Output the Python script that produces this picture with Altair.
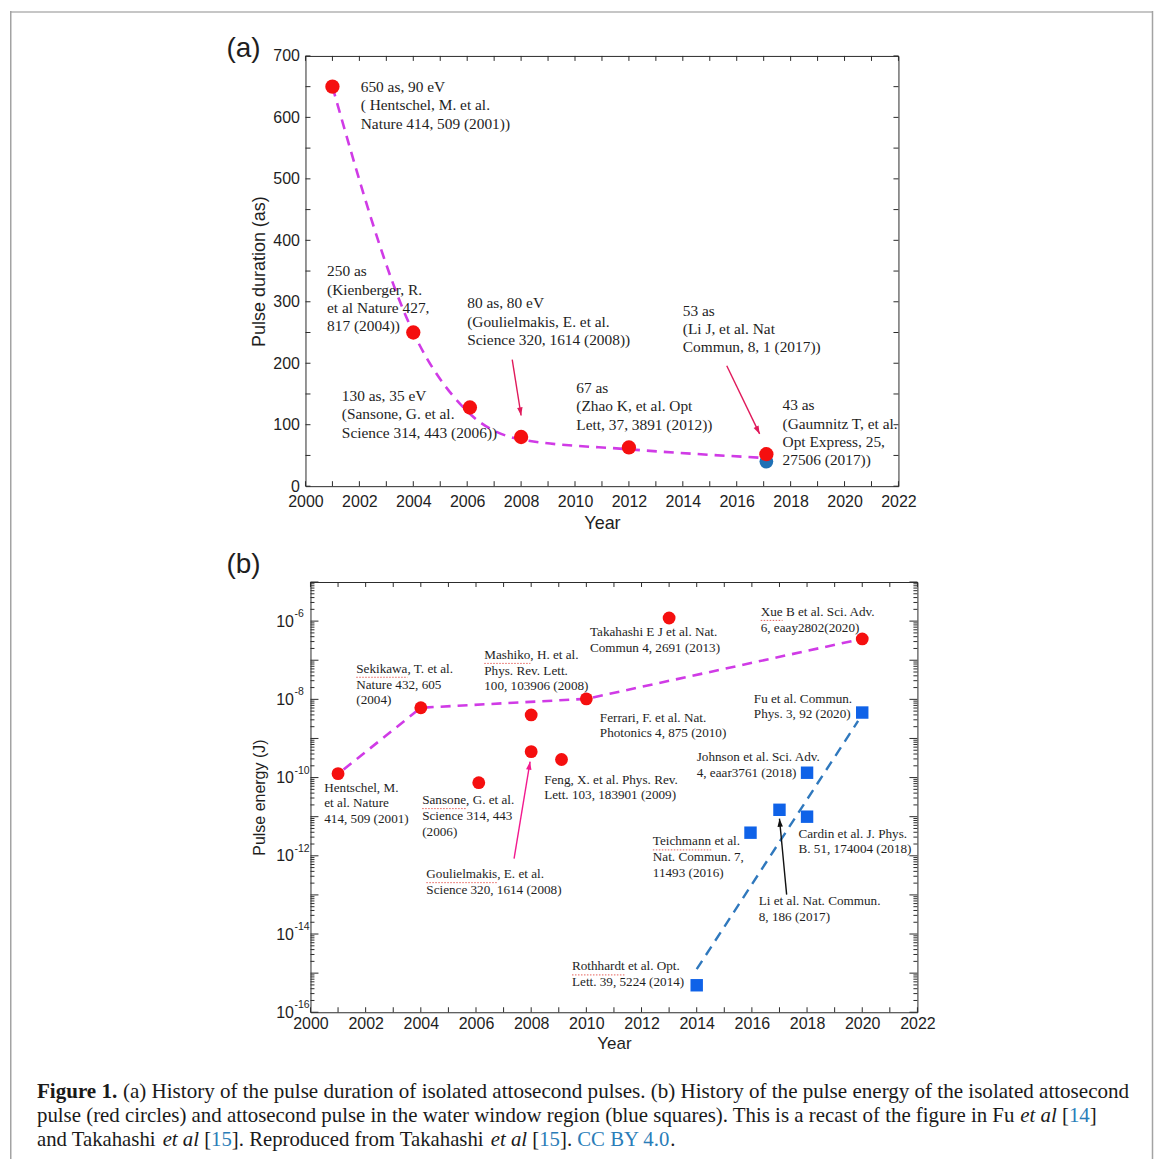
import altair as alt
import pandas as pd

SANS = "Liberation Sans"
SERIF = "Liberation Serif"
TXT = "#1e1e1e"
FRAME = "#2b2b2b"
RED = "#f50f0f"
MAG = "#d03be6"

# ---------------- panel (a): pulse duration ----------------
a_red_year = [2001, 2004, 2006.1, 2008, 2012, 2017.1]
a_red_dur = [650, 250, 128, 80, 63, 52]
a_blue_year = [2017.1]
a_blue_dur = [40]
a_fit_year = [2001, 2004, 2006, 2008, 2012, 2017]
a_fit_dur = [650, 250, 122, 76, 60, 46]

a_note_year = [2002.05, 2000.8, 2001.35, 2006.0, 2010.05, 2014.0, 2017.7]
a_note_dur = [648, 348, 145, 296, 158, 284, 130]
a_note_text = [
    ["650 as, 90 eV", "( Hentschel, M. et al.", "Nature 414, 509 (2001))"],
    ["250 as", "(Kienberger, R.", "et al Nature 427,", "817 (2004))"],
    ["130 as, 35 eV", "(Sansone, G. et al.", "Science 314, 443 (2006))"],
    ["80 as, 80 eV", "(Goulielmakis, E. et al.", "Science 320, 1614 (2008))"],
    ["67 as", "(Zhao K, et al. Opt", "Lett, 37, 3891 (2012))"],
    ["53 as", "(Li J, et al. Nat", "Commun, 8, 1 (2017))"],
    ["43 as", "(Gaumnitz T, et al.", "Opt Express, 25,", "27506 (2017))"],
]
a_arrow_from_year = [2007.67, 2015.63]
a_arrow_from_dur = [206, 196]
a_arrow_to_year = [2008.0, 2016.85]
a_arrow_to_dur = [115, 85]
a_arrow_angle = [351, 334]

a_xticks = list(range(2000, 2023))
a_xlabels = list(range(2000, 2023, 2))
a_yticks = list(range(0, 701, 50))
a_ylabels = list(range(0, 701, 100))

# ---------------- panel (b): pulse energy ----------------
b_red_year = [2001, 2004, 2006.1, 2008, 2008, 2009.1, 2010, 2013, 2020]
b_red_energy = [1.26e-10, 6.1e-9, 7.4e-11, 4.0e-9, 4.6e-10, 2.9e-10, 1.03e-8, 1.2e-6, 3.5e-7]
b_blue_year = [2014, 2015.95, 2017, 2018, 2018, 2020]
b_blue_energy = [4.9e-16, 3.9e-12, 1.5e-11, 1.33e-10, 1.0e-11, 4.6e-9]
b_red_fit_year = [2001.2, 2004, 2010, 2019.9]
b_red_fit_energy = [1.6e-10, 6.1e-9, 1.03e-8, 3.4e-7]
b_blue_fit_year = [2014, 2019.85]
b_blue_fit_energy = [1.26e-15, 2.8e-9]

b_note_year = [2001.66, 2000.5, 2006.3, 2010.13, 2016.32, 2010.49, 2016.07, 2014.0,
               2008.47, 2004.05, 2017.69, 2012.41, 2004.2, 2016.25, 2009.48]
b_note_energy = [5.7e-8, 5.2e-11, 1.29e-7, 5.0e-7, 1.62e-6, 3.2e-9, 9.8e-9, 3.2e-10,
                 8.3e-11, 2.5e-11, 3.5e-12, 2.2e-12, 3.2e-13, 6.5e-14, 1.4e-15]
b_note_text = [
    ["Sekikawa, T. et al.", "Nature 432, 605", "(2004)"],
    [" Hentschel, M.", "et al. Nature", "414, 509 (2001)"],
    ["Mashiko, H. et al.", "Phys. Rev. Lett.", "100, 103906 (2008)"],
    ["Takahashi E J et al. Nat.", "Commun 4, 2691 (2013)"],
    ["Xue B et al. Sci. Adv.", "6, eaay2802(2020)"],
    ["Ferrari, F. et al. Nat.", "Photonics 4, 875 (2010)"],
    ["Fu et al. Commun.", "Phys. 3, 92 (2020)"],
    ["Johnson et al. Sci. Adv.", "4, eaar3761 (2018)"],
    ["Feng, X. et al. Phys. Rev.", "Lett. 103, 183901 (2009)"],
    ["Sansone, G. et al.", "Science 314, 443", "(2006)"],
    ["Cardin et al. J. Phys.", "B. 51, 174004 (2018)"],
    ["Teichmann et al.", "Nat. Commun. 7,", "11493 (2016)"],
    ["Goulielmakis, E. et al.", "Science 320, 1614 (2008)"],
    ["Li et al. Nat. Commun.", "8, 186 (2017)"],
    ["Rothhardt et al. Opt.", "Lett. 39, 5224 (2014)"],
]
# spell-checker squiggles under the first word of some notes: (note index, word width in em/1000)
b_squiggle_note = [0, 2, 4, 9, 11, 12, 14]
b_squiggle_units = [3888, 3500, 1666, 3333, 4499, 5389, 4000]

b_arrow_from_year = [2007.38, 2017.26]
b_arrow_from_energy = [8.5e-13, 1.02e-13]
b_arrow_to_year = [2007.96, 2017.0]
b_arrow_to_energy = [2.55e-10, 8.9e-12]
b_arrow_angle = [9.4, 354.7]
b_arrow_color = ["#f2198e", "#111111"]

b_xticks = list(range(2000, 2023))
b_xlabels = list(range(2000, 2023, 2))
b_exponents = [-16, -14, -12, -10, -8, -6]
b_major = [10.0 ** e for e in range(-16, -4)]
b_minor = [m * 10.0 ** e for e in range(-16, -5) for m in range(2, 10)]

panel_labels = ["(a)", "(b)"]

caption_lines = [
    [("Figure 1.", "b", 4083),
     ("(a) History of the pulse duration of isolated attosecond pulses. (b) History of the pulse energy of the isolated attosecond", "n", 0)],
    [("pulse (red circles) and attosecond pulse in the water window region (blue squares). This is a recast of the figure in Fu", "n", 47129),
     ("et al", "i", 2000), ("[", "n", 333), ("14", "l", 1000), ("]", "n", 0)],
    [("and Takahashi", "n", 6054), ("et al", "i", 2000), ("[", "n", 333), ("15", "l", 1000),
     ("]. Reproduced from Takahashi", "n", 12469), ("et al", "i", 2000), ("[", "n", 333),
     ("15", "l", 1000), ("].", "n", 833), ("CC BY 4.0", "l", 4473), (".", "n", 0)],
]
caption_sizes = [21.1, 20.9, 20.8]

W_A, H_A = 594, 431
W_B, H_B = 608, 431
A_ORIGIN = (304, 53)
NOTE_FS_A = 15.4
NOTE_FS_B = 13.2

xs_a = alt.Scale(domain=[2000, 2022], nice=False, zero=False)
ys_a = alt.Scale(domain=[0, 700], nice=False, zero=False)
xs_b = alt.Scale(domain=[2000, 2022], nice=False, zero=False)
ys_b = alt.Scale(type="log", domain=[1e-16, 1e-5], nice=False)

common_x = dict(format="d", labelFlush=False, labelOverlap=False, labelFontSize=16)
ax_a_x = alt.Axis(values=a_xlabels, title="Year", labelPadding=7, titlePadding=5,
                  titleFontSize=18, **common_x)
ax_a_y = alt.Axis(values=a_ylabels, format="d", title="Pulse duration (as)", labelPadding=6,
                  titlePadding=4, labelFontSize=16, titleFontSize=18, labelFlush=False)
ax_b_x = alt.Axis(values=b_xlabels, title="Year", labelPadding=3, titlePadding=4,
                  titleFontSize=17, **common_x)
ax_b_y = alt.Axis(values=[10.0 ** e for e in b_exponents], labelExpr="'10'",
                  title="Pulse energy (J)", labelPadding=17, titlePadding=8,
                  labelFontSize=16, titleFontSize=16, labelFlush=False, labelOverlap=False)


def XA(f):
    return alt.X(f, scale=xs_a, axis=ax_a_x)


def YA(f):
    return alt.Y(f, scale=ys_a, axis=ax_a_y)


def XB(f):
    return alt.X(f, scale=xs_b, axis=ax_b_x)


def YB(f):
    return alt.Y(f, scale=ys_b, axis=ax_b_y)


def ticks(values, X, Y, orient, length, w, h):
    df = pd.DataFrame({"t": values})
    m = alt.Chart(df).mark_rule(color=FRAME, strokeWidth=1)
    if orient in ("bottom", "top"):
        y0 = h if orient == "bottom" else 0
        y1 = h - length if orient == "bottom" else length
        return m.encode(x=X("t:Q"), y=alt.value(y0), y2=alt.value(y1))
    x0 = 0 if orient == "left" else w
    x1 = length if orient == "left" else w - length
    return m.encode(y=Y("t:Q"), x=alt.value(x0), x2=alt.value(x1))


one = pd.DataFrame({"t": [0]})

# ---------- panel (a) ----------
a_layers = [
    ticks(a_xticks, XA, YA, "bottom", 5, W_A, H_A),
    ticks(a_yticks, XA, YA, "left", 5, W_A, H_A),
    ticks(a_xticks, XA, YA, "top", 5, W_A, H_A),
    ticks(a_yticks, XA, YA, "right", 5, W_A, H_A),
]
a_layers.append(
    alt.Chart(pd.DataFrame({"year": a_fit_year, "dur": a_fit_dur}))
    .mark_line(color=MAG, strokeWidth=2.6, strokeDash=[10, 7], interpolate="monotone")
    .encode(x=XA("year:Q"), y=YA("dur:Q"))
)
a_layers.append(
    alt.Chart(pd.DataFrame({"year": a_blue_year, "dur": a_blue_dur}))
    .mark_circle(size=190, color="#1f70b5", opacity=1)
    .encode(x=XA("year:Q"), y=YA("dur:Q"))
)
a_layers.append(
    alt.Chart(pd.DataFrame({"year": a_red_year, "dur": a_red_dur}))
    .mark_circle(size=205, color=RED, opacity=1)
    .encode(x=XA("year:Q"), y=YA("dur:Q"))
)
a_layers.append(
    alt.Chart(pd.DataFrame({"year": a_note_year, "dur": a_note_dur, "lines": a_note_text}))
    .mark_text(align="left", baseline="top", dy=-8, font=SERIF, fontSize=NOTE_FS_A,
               lineHeight=18.4, color=TXT)
    .encode(x=XA("year:Q"), y=YA("dur:Q"), text=alt.Text("lines:N"))
)
a_arrows = pd.DataFrame({"x": a_arrow_from_year, "y": a_arrow_from_dur,
                         "x2": a_arrow_to_year, "y2": a_arrow_to_dur})
a_layers.append(
    alt.Chart(a_arrows).mark_rule(color="#e0195a", strokeWidth=1.4)
    .encode(x=XA("x:Q"), x2="x2:Q", y=YA("y:Q"), y2="y2:Q")
)
for i, ang in enumerate(a_arrow_angle):
    a_layers.append(
        alt.Chart(a_arrows.iloc[[i]])
        .mark_point(shape="M0,0L-0.34,-1L0.34,-1Z", filled=True, size=260, angle=ang,
                    color="#e0195a", opacity=1, strokeWidth=0)
        .encode(x=XA("x2:Q"), y=YA("y2:Q"))
    )
a_layers.append(
    alt.Chart(pd.DataFrame({"t": [panel_labels[0]]}))
    .mark_text(font=SANS, fontSize=28, align="center", baseline="middle", color=TXT)
    .encode(text="t:N", x=alt.value(-62), y=alt.value(-7))
)
# outer frame of the figure (relative to panel (a)'s plot origin); kept inside the
# 1146px-wide page area so the drawing is never shrunk
left_px = 8.75 - A_ORIGIN[0]
right_px = 1152.5 - A_ORIGIN[0]
top_px = 9.0 - A_ORIGIN[1]
bottom_px = 1158 - A_ORIGIN[1]
a_layers += [
    alt.Chart(one).mark_rule(color="#c6c6c6", strokeWidth=2)
    .encode(x=alt.value(left_px - 0.75), x2=alt.value(right_px - 0.5), y=alt.value(top_px)),
    alt.Chart(one).mark_rule(color="#a3a3a3", strokeWidth=1.5)
    .encode(x=alt.value(left_px), y=alt.value(top_px - 1), y2=alt.value(bottom_px)),
    alt.Chart(one).mark_rule(color="#a3a3a3", strokeWidth=1.5)
    .encode(x=alt.value(right_px), y=alt.value(top_px - 1), y2=alt.value(bottom_px)),
]

# caption (text runs, laid out relative to panel (a)'s origin)
line_y = [1091, 1115, 1139]
style_map = {
    "b": dict(fontWeight="bold", fontStyle="normal", color="#1a1a1a"),
    "n": dict(fontWeight="normal", fontStyle="normal", color="#1a1a1a"),
    "i": dict(fontWeight="normal", fontStyle="italic", color="#1a1a1a"),
    "l": dict(fontWeight="normal", fontStyle="normal", color="#2a7db8"),
}
for li, runs in enumerate(caption_lines):
    cx = 35.0
    fs = caption_sizes[li]
    for text, st, adv in runs:
        a_layers.append(
            alt.Chart(pd.DataFrame({"t": [text]}))
            .mark_text(align="left", baseline="middle", font=SERIF, fontSize=fs, **style_map[st])
            .encode(text="t:N", x=alt.value(cx - A_ORIGIN[0]), y=alt.value(line_y[li] - A_ORIGIN[1]))
        )
        cx += adv * fs / 1000.0

panel_a = alt.layer(*a_layers).properties(width=W_A, height=H_A)

# ---------- panel (b) ----------
b_layers = [
    ticks(b_xticks, XB, YB, "bottom", 5, W_B, H_B),
    ticks(b_major, XB, YB, "left", 8, W_B, H_B),
    ticks(b_minor, XB, YB, "left", 4, W_B, H_B),
    ticks(b_xticks, XB, YB, "top", 5, W_B, H_B),
    ticks(b_major, XB, YB, "right", 8, W_B, H_B),
    ticks(b_minor, XB, YB, "right", 4, W_B, H_B),
]
b_layers.append(
    alt.Chart(pd.DataFrame({"e": [str(e) for e in b_exponents],
                            "v": [10.0 ** e for e in b_exponents]}))
    .mark_text(align="left", baseline="middle", dy=-7, font=SANS, fontSize=10.5, color=TXT)
    .encode(x=alt.value(-16), y=YB("v:Q"), text="e:N")
)
b_layers.append(
    alt.Chart(pd.DataFrame({"year": b_red_fit_year, "en": b_red_fit_energy}))
    .mark_line(color=MAG, strokeWidth=2.6, strokeDash=[10, 7])
    .encode(x=XB("year:Q"), y=YB("en:Q"))
)
b_layers.append(
    alt.Chart(pd.DataFrame({"year": b_blue_fit_year, "en": b_blue_fit_energy}))
    .mark_line(color="#2f78bd", strokeWidth=2.4, strokeDash=[10, 7])
    .encode(x=XB("year:Q"), y=YB("en:Q"))
)
b_layers.append(
    alt.Chart(pd.DataFrame({"year": b_red_year, "en": b_red_energy}))
    .mark_circle(size=165, color=RED, opacity=1)
    .encode(x=XB("year:Q"), y=YB("en:Q"))
)
b_layers.append(
    alt.Chart(pd.DataFrame({"year": b_blue_year, "en": b_blue_energy}))
    .mark_square(size=155, color="#0f62e8", opacity=1)
    .encode(x=XB("year:Q"), y=YB("en:Q"))
)
b_layers.append(
    alt.Chart(pd.DataFrame({"year": b_note_year, "en": b_note_energy, "lines": b_note_text}))
    .mark_text(align="left", baseline="top", dy=-7, font=SERIF, fontSize=NOTE_FS_B,
               lineHeight=15.8, color=TXT)
    .encode(x=XB("year:Q"), y=YB("en:Q"), text=alt.Text("lines:N"))
)
for idx, units in zip(b_squiggle_note, b_squiggle_units):
    row = pd.DataFrame({"year": [b_note_year[idx]], "en": [b_note_energy[idx]]})
    b_layers.append(
        alt.Chart(row)
        .mark_rule(color="#e2463f", strokeWidth=1, strokeDash=[1.5, 1.5], opacity=0.85,
                   yOffset=7.5, y2Offset=7.5, x2Offset=units * NOTE_FS_B / 1000.0)
        .encode(x=XB("year:Q"), x2="year:Q", y=YB("en:Q"), y2="en:Q")
    )
b_arrows = pd.DataFrame({"x": b_arrow_from_year, "y": b_arrow_from_energy,
                         "x2": b_arrow_to_year, "y2": b_arrow_to_energy})
for i, ang in enumerate(b_arrow_angle):
    b_layers.append(
        alt.Chart(b_arrows.iloc[[i]]).mark_rule(color=b_arrow_color[i], strokeWidth=1.4)
        .encode(x=XB("x:Q"), x2="x2:Q", y=YB("y:Q"), y2="y2:Q")
    )
    b_layers.append(
        alt.Chart(b_arrows.iloc[[i]])
        .mark_point(shape="M0,0L-0.34,1L0.34,1Z", filled=True, size=260, angle=ang,
                    color=b_arrow_color[i], opacity=1, strokeWidth=0)
        .encode(x=XB("x2:Q"), y=YB("y2:Q"))
    )
b_layers.append(
    alt.Chart(pd.DataFrame({"t": [panel_labels[1]]}))
    .mark_text(font=SANS, fontSize=28, align="center", baseline="middle", color=TXT)
    .encode(text="t:N", x=alt.value(-67), y=alt.value(-17))
)
panel_b = alt.layer(*b_layers).properties(width=W_B, height=H_B)

spacer = (
    alt.Chart(one).mark_point(opacity=0)
    .encode(x=alt.value(0), y=alt.value(0))
    .properties(width=5, height=1, view=alt.ViewBackground(strokeOpacity=0))
)

chart = (
    alt.vconcat(
        panel_a,
        alt.hconcat(spacer, panel_b, spacing=0, bounds="flush"),
        spacing=96,
        bounds="flush",
    )
    .properties(padding=0, background="white")
    .configure_view(stroke=FRAME, strokeWidth=1)
    .configure_axis(labelFont=SANS, titleFont=SANS, labelColor=TXT, titleColor=TXT,
                    titleFontWeight="normal", grid=False, domain=False, ticks=False, tickSize=0)
)

chart.save("out.html", embed_options={"renderer": "svg", "actions": False})
